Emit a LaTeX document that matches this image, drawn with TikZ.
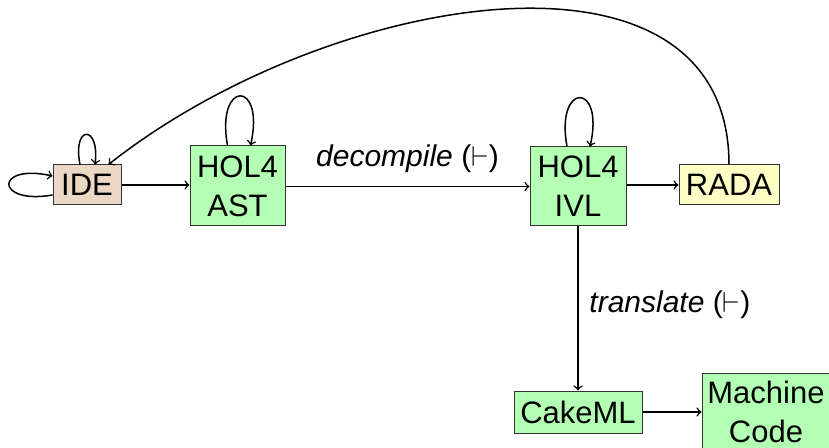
\documentclass[tikz,border=0pt]{standalone}
\usepackage{fontspec}
\setmainfont{Liberation Sans}
\usetikzlibrary{calc}
\definecolor{idec}{HTML}{EAD8C5}
\definecolor{greenc}{HTML}{B3FFB3}
\definecolor{yellc}{HTML}{FFFFC6}
\begin{document}
\begin{tikzpicture}[x=0.5pt,y=-0.5pt,
  box/.style={draw=black!80,line width=0.5pt,inner sep=0pt,align=center,font=\fontsize{15.5}{19.5}\selectfont},
  lbl/.style={font=\fontsize{15}{19}\selectfont\itshape},
  arr/.style={->,line width=0.75pt}]
\useasboundingbox (0,0) rectangle (829,448);
\node[box,fill=idec,minimum width=34pt,minimum height=20pt] (ide) at (87,185) {IDE};
\node[box,fill=greenc,minimum width=47.5pt,minimum height=40pt] (ast) at (237.5,186) {HOL4\\AST};
\node[box,fill=greenc,minimum width=48pt,minimum height=39.5pt] (ivl) at (578,186.5) {HOL4\\IVL};
\node[box,fill=yellc,minimum width=50pt,minimum height=20pt] (rada) at (729,185) {RADA};
\node[box,fill=greenc,minimum width=64pt,minimum height=21pt] (cake) at (578,412) {CakeML};
\node[box,fill=greenc,minimum width=64pt,minimum height=39pt] (mc) at (766,412) {Machine\\Code};
% straight edges
\draw[arr] (ide.east) -- (ide.east -| ast.west);
\draw[arr] (ast.east |- ivl.west) -- node[lbl,above=3pt] (dlab) {decompile {\upshape(}$\vdash${\upshape)}} (ivl.west);
\draw[arr] (ivl.east |- rada.west) -- (rada.west);
\draw[arr] (ivl.south) -- node[lbl,right=2pt,pos=0.48] (tlab) {translate {\upshape(}$\vdash${\upshape)}} (cake.north);
\draw[arr] (cake.east) -- (mc.west |- cake.east);
% self loops
\draw[arr] ($(ide.north)+(-7,0)$) .. controls ($(ide.north)+(-15,-40)$) and ($(ide.north)+(13,-40)$) .. ($(ide.north)+(8,0)$);
\draw[arr] ($(ide.west)+(0,10)$) .. controls ($(ide.west)+(-58,20)$) and ($(ide.west)+(-58,-22)$) .. ($(ide.west)+(0,-9)$);
\draw[arr] ($(ast.north)+(-10,0)$) .. controls ($(ast.north)+(-22,-66)$) and ($(ast.north)+(28,-66)$) .. ($(ast.north)+(13,0)$);
\draw[arr] ($(ivl.north)+(-11,0)$) .. controls ($(ivl.north)+(-23,-65)$) and ($(ivl.north)+(27,-65)$) .. ($(ivl.north)+(12,0)$);
% big arc back to IDE
\draw[arr] (rada.north) .. controls (729,-75) and (330,-10) .. ($(ide.north east)+(-13,0)$);
\end{tikzpicture}
\end{document}
